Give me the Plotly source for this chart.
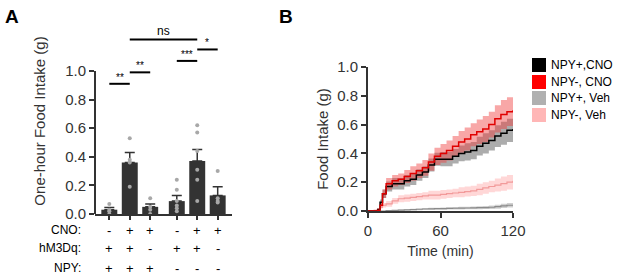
import plotly.graph_objects as go

# ---- panel A data ----
bar_means = [0.03, 0.36, 0.05, 0.09, 0.37, 0.13]
bar_sem = [0.015, 0.07, 0.02, 0.04, 0.08, 0.06]
bar_points = [
    [0.07, 0.03, 0.02, 0.0],
    [0.53, 0.38, 0.36, 0.19],
    [0.11, 0.05, 0.03, 0.0],
    [0.24, 0.17, 0.09, 0.06, 0.04, 0.02],
    [0.62, 0.57, 0.44, 0.31, 0.24, 0.09],
    [0.30, 0.11, 0.09, 0.08],
]
row_labels = ["CNO:", "hM3Dq:", "NPY:"]
cno = ["-", "+", "+", "-", "+", "+"]
hm3dq = ["+", "+", "-", "+", "+", "-"]
npy = ["+", "+", "+", "-", "-", "-"]
# (from bar, to bar, height, label)
sig = [(0, 1, 0.91, "**"), (1, 2, 0.99, "**"), (3, 4, 1.07, "***"),
       (4, 5, 1.15, "*"), (1, 4, 1.22, "ns")]

# ---- panel B data ----
times = [0, 5, 8, 10, 12, 15, 20, 25, 30, 35, 40, 45, 50, 55, 60, 65, 70,
         75, 80, 85, 90, 95, 100, 105, 110, 115, 120]
black_mean = [0, 0, 0.01, 0.06, 0.12, 0.17, 0.19, 0.19, 0.21, 0.22, 0.25, 0.27,
              0.32, 0.36, 0.36, 0.36, 0.38, 0.40, 0.41, 0.42, 0.45, 0.47, 0.49,
              0.52, 0.54, 0.56, 0.57]
black_sem = [0, 0, 0.005, 0.02, 0.03, 0.035, 0.04, 0.04, 0.04, 0.04, 0.04, 0.04,
             0.045, 0.045, 0.05, 0.05, 0.05, 0.055, 0.06, 0.06, 0.065, 0.07,
             0.07, 0.075, 0.08, 0.08, 0.08]
red_mean = [0, 0, 0.005, 0.04, 0.12, 0.19, 0.21, 0.22, 0.24, 0.26, 0.28, 0.30,
            0.34, 0.38, 0.40, 0.42, 0.45, 0.48, 0.50, 0.53, 0.55, 0.57, 0.60,
            0.64, 0.67, 0.69, 0.70]
red_sem = [0, 0, 0.005, 0.02, 0.03, 0.04, 0.04, 0.04, 0.045, 0.05, 0.05, 0.055,
           0.06, 0.06, 0.065, 0.07, 0.07, 0.075, 0.08, 0.08, 0.085, 0.09, 0.09,
           0.095, 0.1, 0.1, 0.1]
pink_mean = [0, 0.005, 0.015, 0.025, 0.04, 0.05, 0.07, 0.085, 0.09, 0.095, 0.10,
             0.105, 0.11, 0.11, 0.115, 0.12, 0.125, 0.13, 0.135, 0.14, 0.15,
             0.16, 0.17, 0.18, 0.19, 0.20, 0.21]
pink_sem = [0, 0.003, 0.005, 0.01, 0.015, 0.02, 0.02, 0.025, 0.025, 0.025, 0.025,
            0.025, 0.03, 0.03, 0.03, 0.03, 0.03, 0.035, 0.035, 0.035, 0.04, 0.04,
            0.04, 0.045, 0.05, 0.05, 0.05]
gray_mean = [0, 0, 0, 0, 0, 0.002, 0.004, 0.006, 0.008, 0.01, 0.012, 0.014,
             0.015, 0.016, 0.017, 0.018, 0.019, 0.02, 0.021, 0.022, 0.023,
             0.024, 0.026, 0.03, 0.035, 0.04, 0.04]
gray_sem = [0, 0, 0, 0, 0, 0.002, 0.003, 0.004, 0.005, 0.005, 0.006, 0.006,
            0.007, 0.007, 0.008, 0.008, 0.008, 0.009, 0.009, 0.01, 0.01, 0.01,
            0.012, 0.014, 0.015, 0.016, 0.016]
legend_names = ["NPY+,CNO", "NPY-, CNO", "NPY+, Veh", "NPY-, Veh"]

FONT = "Arial, Liberation Sans, sans-serif"
AX = "#333333"
W, H = 617, 280

pos = [i + (0.3 if i >= 3 else 0) for i in range(len(bar_means))]

fig = go.Figure()

# panel A bars
fig.add_trace(go.Bar(
    x=pos, y=bar_means, width=0.78, marker=dict(color="#333333", line=dict(width=0)),
    error_y=dict(type="data", array=bar_sem, arrayminus=[0] * 6, color="#333333",
                 thickness=1.5, width=5),
    xaxis="x", yaxis="y", showlegend=False))
px_, py_ = [], []
for p, pts in zip(pos, bar_points):
    px_ += [p] * len(pts)
    py_ += pts
fig.add_trace(go.Scatter(x=px_, y=py_, mode="markers",
                         marker=dict(color="#a8a8a8", size=4),
                         xaxis="x", yaxis="y", showlegend=False))

# panel B bands + lines
series = [
    (gray_mean, gray_sem, "rgba(150,150,150,0.45)", "#8a8a8a", 1.2),
    (pink_mean, pink_sem, "rgba(255,140,140,0.35)", "#f29a9a", 1.2),
    (black_mean, black_sem, "rgba(90,90,90,0.5)", "black", 1.5),
    (red_mean, red_sem, "rgba(240,60,60,0.45)", "#e00000", 1.5),
]
for m, s, band, line, lw in series:
    up = [a + b for a, b in zip(m, s)]
    lo = [max(a - b, 0) for a, b in zip(m, s)]
    fig.add_trace(go.Scatter(x=times, y=lo, mode="lines", line=dict(width=0, shape="hv"),
                             xaxis="x2", yaxis="y2", showlegend=False, hoverinfo="skip"))
    fig.add_trace(go.Scatter(x=times, y=up, mode="lines", line=dict(width=0, shape="hv"),
                             fill="tonexty", fillcolor=band,
                             xaxis="x2", yaxis="y2", showlegend=False, hoverinfo="skip"))
for m, s, band, line, lw in series:
    fig.add_trace(go.Scatter(x=times, y=m, mode="lines",
                             line=dict(color=line, width=lw, shape="hv"),
                             xaxis="x2", yaxis="y2", showlegend=False))

shapes = []
annotations = []

# y axis line for panel A (only up to 1.0)
shapes.append(dict(type="line", xref="paper", yref="y", x0=95 / W, x1=95 / W,
                   y0=0, y1=1.0, line=dict(color=AX, width=2)))

# significance lines
for a, b, yv, lab in sig:
    shapes.append(dict(type="line", xref="x", yref="y", x0=pos[a], x1=pos[b],
                       y0=yv, y1=yv, line=dict(color="black", width=2)))
    annotations.append(dict(x=(pos[a] + pos[b]) / 2, y=yv, xref="x", yref="y",
                            text=lab, showarrow=False, yanchor="bottom", yshift=-1,
                            font=dict(size=12 if lab == "ns" else 10, color="black")))

# condition table
rows = [cno, hm3dq, npy]
row_y = [230, 248, 268]
for lab, vals, ry in zip(row_labels, rows, row_y):
    annotations.append(dict(x=83 / W, y=1 - ry / H, xref="paper", yref="paper",
                            text=lab, showarrow=False, xanchor="right", yanchor="middle",
                            font=dict(size=12, color="black")))
    for p, v in zip(pos, vals):
        annotations.append(dict(x=p, y=1 - ry / H, xref="x", yref="paper",
                                text=v, showarrow=False, yanchor="middle",
                                font=dict(size=13, color="black")))

# panel letters
annotations.append(dict(x=3 / W, y=1 - 16 / H, xref="paper", yref="paper", text="<b>A</b>",
                        showarrow=False, xanchor="left", yanchor="middle",
                        font=dict(size=19, color="black")))
annotations.append(dict(x=277 / W, y=1 - 16 / H, xref="paper", yref="paper", text="<b>B</b>",
                        showarrow=False, xanchor="left", yanchor="middle",
                        font=dict(size=19, color="black")))

# legend
leg_colors = ["black", "#ff0000", "#b0b0b0", "#ffb6b6"]
leg_y = [65, 82, 98, 115]
for name, c, ly in zip(legend_names, leg_colors, leg_y):
    shapes.append(dict(type="rect", xref="paper", yref="paper",
                       x0=532 / W, x1=546 / W, y0=1 - (ly + 7) / H, y1=1 - (ly - 7) / H,
                       fillcolor=c, line=dict(width=0)))
    annotations.append(dict(x=549 / W, y=1 - ly / H, xref="paper", yref="paper",
                            text=name, showarrow=False, xanchor="left", yanchor="middle",
                            font=dict(size=12, color="black")))

fig.update_layout(
    width=W, height=H, margin=dict(l=0, r=0, t=0, b=0, autoexpand=False),
    plot_bgcolor="white", paper_bgcolor="white",
    font=dict(family=FONT, color=AX),
    shapes=shapes, annotations=annotations, showlegend=False,
    xaxis=dict(domain=[95 / W, 232 / W], range=[-0.7, 6.0], showline=True,
               linecolor=AX, linewidth=2, tickvals=pos, ticks="outside",
               ticklen=4, tickwidth=1.5, tickcolor=AX, showticklabels=False,
               showgrid=False, zeroline=False, anchor="y", automargin=False),
    yaxis=dict(domain=[1 - 214 / H, 1 - 28 / H], range=[0, 1.3], showline=False,
               tickvals=[0, 0.2, 0.4, 0.6, 0.8, 1.0], tickformat=".1f",
               ticks="outside", ticklen=5, tickwidth=2, tickcolor=AX,
               tickfont=dict(size=15, color=AX), showgrid=False, zeroline=False,
               anchor="x", automargin=False,
               title=dict(text="One-hour Food Intake (g)", font=dict(size=15, color=AX),
                          standoff=15)),
    xaxis2=dict(domain=[368 / W, 513 / W], range=[0, 120], showline=True,
                linecolor=AX, linewidth=2, tickvals=[0, 60, 120], ticks="outside",
                ticklen=5, tickwidth=2, tickcolor=AX, tickfont=dict(size=15, color=AX),
                showgrid=False, zeroline=False, anchor="y2", automargin=False,
                title=dict(text="Time (min)", font=dict(size=14, color=AX), standoff=8)),
    yaxis2=dict(domain=[1 - 211 / H, 1 - 67 / H], range=[0, 1.0], showline=True,
                linecolor=AX, linewidth=2, tickvals=[0, 0.2, 0.4, 0.6, 0.8, 1.0],
                tickformat=".1f", ticks="outside", ticklen=5, tickwidth=2,
                tickcolor=AX, tickfont=dict(size=15, color=AX), showgrid=False,
                zeroline=False, anchor="x2", automargin=False,
                title=dict(text="Food Intake (g)", font=dict(size=15, color=AX),
                           standoff=5)),
)

fig.write_html("out.html", config={"displayModeBar": False},
               post_script="document.body.style.margin = '0';")
